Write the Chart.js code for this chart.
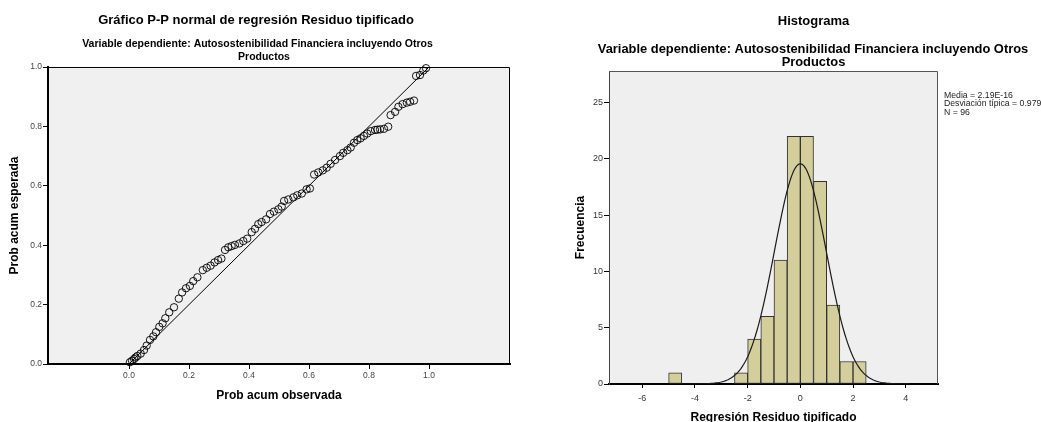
<!DOCTYPE html>
<html>
<head>
<meta charset="utf-8">
<script src="https://cdn.jsdelivr.net/npm/chart.js@4/dist/chart.umd.min.js"></script>
<style>
  html, body { margin: 0; padding: 0; background: #fff; }
  #wrap { position: relative; width: 1041px; height: 422px; overflow: hidden; }
  #ppBox { position: absolute; left: 0; top: 0; width: 520px; height: 422px; }
  #histBox { position: absolute; left: 530px; top: 0; width: 511px; height: 422px; }
</style>
</head>
<body>
<div id="wrap">
  <div id="ppBox"><canvas id="ppChart"></canvas></div>
  <div id="histBox"><canvas id="histChart"></canvas></div>
</div>
<script>
const ppObserved = [0.003, 0.010, 0.017, 0.022, 0.028, 0.039, 0.050, 0.059, 0.070, 0.081,
  0.090, 0.101, 0.112, 0.121, 0.134, 0.150, 0.166, 0.177, 0.190, 0.203,
  0.214, 0.228, 0.246, 0.259, 0.272, 0.285, 0.297, 0.308, 0.320, 0.331,
  0.342, 0.353, 0.368, 0.381, 0.394, 0.409, 0.420, 0.431, 0.442, 0.457,
  0.470, 0.483, 0.498, 0.509, 0.517, 0.531, 0.548, 0.561, 0.576, 0.592,
  0.603, 0.617, 0.631, 0.646, 0.659, 0.672, 0.687, 0.703, 0.714, 0.728,
  0.739, 0.750, 0.761, 0.772, 0.783, 0.794, 0.806, 0.820, 0.828, 0.837,
  0.850, 0.864, 0.872, 0.887, 0.898, 0.912, 0.926, 0.937, 0.950, 0.957,
  0.970, 0.981, 0.990];
const ppExpected = [0.006, 0.011, 0.017, 0.022, 0.027, 0.035, 0.047, 0.062, 0.081, 0.093,
  0.107, 0.125, 0.137, 0.154, 0.174, 0.191, 0.220, 0.241, 0.255, 0.263,
  0.279, 0.292, 0.316, 0.324, 0.331, 0.342, 0.350, 0.355, 0.384, 0.393,
  0.397, 0.401, 0.406, 0.414, 0.422, 0.444, 0.455, 0.471, 0.478, 0.487,
  0.505, 0.513, 0.521, 0.530, 0.549, 0.554, 0.561, 0.568, 0.574, 0.588,
  0.591, 0.638, 0.645, 0.652, 0.661, 0.674, 0.687, 0.700, 0.711, 0.720,
  0.729, 0.745, 0.754, 0.760, 0.768, 0.776, 0.784, 0.788, 0.789, 0.790,
  0.792, 0.799, 0.838, 0.849, 0.866, 0.875, 0.880, 0.883, 0.887, 0.970,
  0.973, 0.988, 0.996];
const ppTicks = [0, 0.2, 0.4, 0.6, 0.8, 1.0];

// Histogram of standardized residuals
const binCenters = [-4.75, -2.25, -1.75, -1.25, -0.75, -0.25, 0.25, 0.75, 1.25, 1.75, 2.25];
const binCounts = [1, 1, 4, 6, 11, 22, 22, 18, 7, 2, 2];
const binWidth = 0.5;
const histXTicks = [-6, -4, -2, 0, 2, 4];
const histYTicks = [0, 5, 10, 15, 20, 25];
const residMean = 2.19e-16;
const residSD = 0.979;
const residN = 96;

const FONT = "'Liberation Sans', Arial, sans-serif";

// fitted normal curve from the stats printed beside the histogram
const curveX = [];
for (let x = -4.8; x <= 4.15; x += 0.05) curveX.push(x);
const curvePts = curveX.map(x => ({
  x: x,
  y: residN * binWidth * Math.exp(-0.5 * Math.pow((x - residMean) / residSD, 2)) / (residSD * Math.sqrt(2 * Math.PI))
}));

// plot background, frame and the title/annotation texts
const plotFrame = {
  id: 'plotFrame',
  beforeDraw(chart, args, opts) {
    const {ctx, chartArea: a} = chart;
    ctx.save();
    ctx.fillStyle = opts.fill;
    ctx.fillRect(a.left, a.top, a.right - a.left, a.bottom - a.top);
    ctx.restore();
  },
  afterDraw(chart, args, opts) {
    const {ctx, chartArea: a} = chart;
    ctx.save();
    ctx.strokeStyle = opts.stroke;
    ctx.lineWidth = 1;
    ctx.beginPath();
    ctx.moveTo(a.left, a.top + 0.5);
    ctx.lineTo(a.right - 0.5, a.top + 0.5);
    ctx.lineTo(a.right - 0.5, a.bottom);
    ctx.stroke();
    ctx.fillStyle = '#000';
    ctx.textBaseline = 'alphabetic';
    (opts.lines || []).forEach(l => {
      ctx.font = l.font;
      ctx.fillStyle = l.color || '#000';
      ctx.textAlign = l.align || 'center';
      ctx.fillText(l.text, l.x, l.y);
    });
    ctx.restore();
  }
};

const subtitle = 'Variable dependiente: Autosostenibilidad Financiera incluyendo Otros';

new Chart(document.getElementById('ppChart'), {
  type: 'scatter',
  data: {
    datasets: [{
      data: ppObserved.map((v, i) => ({x: v, y: ppExpected[i]})),
      pointRadius: 3.7,
      pointBorderWidth: 0.9,
      pointBorderColor: '#000',
      pointBackgroundColor: 'rgba(0,0,0,0)',
      clip: false,
      order: 0
    }, {
      type: 'line',
      data: [{x: 0, y: 0}, {x: 1, y: 1}],
      borderColor: '#000',
      borderWidth: 1,
      pointRadius: 0,
      order: 1
    }]
  },
  options: {
    responsive: true,
    maintainAspectRatio: false,
    animation: false,
    layout: { padding: { top: 67, right: 10, left: 0, bottom: 0 } },
    plugins: {
      legend: { display: false },
      tooltip: { enabled: false },
      plotFrame: {
        fill: '#f0f0f0',
        stroke: '#000',
        lines: [
          { text: 'Gráfico P-P normal de regresión Residuo tipificado', x: 256, y: 24, font: 'bold 13px ' + FONT },
          { text: subtitle, x: 257.5, y: 47, font: 'bold 10.5px ' + FONT },
          { text: 'Productos', x: 264, y: 59.5, font: 'bold 10.5px ' + FONT }
        ]
      }
    },
    scales: {
      x: {
        type: 'linear',
        min: -0.27,
        max: 1.27,
        afterBuildTicks: s => { s.ticks = ppTicks.map(v => ({value: v})); },
        afterFit: s => { s.height = 58; },
        ticks: { color: '#444', font: { family: FONT, size: 8.5 }, padding: 2, maxRotation: 0,
          callback: v => v.toFixed(1) },
        grid: { display: true, drawOnChartArea: false, tickLength: 5, color: '#000' },
        border: { display: true, color: '#000', width: 2 },
        title: { display: true, text: 'Prob acum observada', color: '#000',
          font: { family: FONT, size: 12, weight: 'bold', lineHeight: 1.2 }, padding: { top: 0, bottom: 19 } }
      },
      y: {
        type: 'linear',
        min: 0,
        max: 1,
        afterBuildTicks: s => { s.ticks = ppTicks.map(v => ({value: v})); },
        afterFit: s => { s.width = 48; },
        ticks: { color: '#444', font: { family: FONT, size: 8.5 }, padding: 1,
          callback: v => v.toFixed(1) },
        grid: { display: true, drawOnChartArea: false, tickLength: 5, color: '#000' },
        border: { display: true, color: '#000', width: 2 },
        title: { display: true, text: 'Prob acum esperada', color: '#000',
          font: { family: FONT, size: 12, weight: 'bold', lineHeight: 1.2 }, padding: { top: 7.5, bottom: 0 } }
      }
    }
  },
  plugins: [plotFrame]
});

new Chart(document.getElementById('histChart'), {
  type: 'bar',
  data: {
    datasets: [{
      type: 'line',
      data: curvePts,
      borderColor: '#1a1a1a',
      borderWidth: 1.2,
      pointRadius: 0,
      tension: 0,
      order: 0
    }, {
      type: 'bar',
      data: binCenters.map((c, i) => ({x: c, y: binCounts[i]})),
      backgroundColor: '#d3ce9a',
      borderColor: '#333',
      borderWidth: 1,
      borderSkipped: false,
      barPercentage: 1,
      categoryPercentage: 1,
      order: 1
    }]
  },
  options: {
    responsive: true,
    maintainAspectRatio: false,
    animation: false,
    layout: { padding: { top: 71, right: 103, left: 0, bottom: 0 } },
    plugins: {
      legend: { display: false },
      tooltip: { enabled: false },
      plotFrame: {
        fill: '#efefef',
        stroke: '#555',
        lines: [
          { text: 'Histograma', x: 283.5, y: 25, font: 'bold 13px ' + FONT },
          { text: subtitle, x: 283, y: 53, font: 'bold 12.9px ' + FONT },
          { text: 'Productos', x: 283.5, y: 65.5, font: 'bold 12.9px ' + FONT },
          { text: 'Media = 2.19E-16', x: 414, y: 97.5, font: '8.7px ' + FONT, align: 'left', color: '#222' },
          { text: 'Desviación típica = 0.979', x: 414, y: 106, font: '8.7px ' + FONT, align: 'left', color: '#222' },
          { text: 'N = 96', x: 414, y: 114.5, font: '8.7px ' + FONT, align: 'left', color: '#222' }
        ]
      }
    },
    scales: {
      x: {
        type: 'linear',
        offset: false,
        min: -7.264,
        max: 5.226,
        afterBuildTicks: s => { s.ticks = histXTicks.map(v => ({value: v})); },
        afterFit: s => { s.height = 38; },
        ticks: { color: '#333', font: { family: FONT, size: 9 }, padding: 5, maxRotation: 0 },
        grid: { display: true, offset: false, drawOnChartArea: false, tickLength: 4, color: '#000' },
        border: { display: true, color: '#000', width: 2 },
        title: { display: true, text: 'Regresión Residuo tipificado', color: '#000',
          font: { family: FONT, size: 12, weight: 'bold', lineHeight: 0.8 }, padding: { top: 0, bottom: 0 } }
      },
      y: {
        type: 'linear',
        min: 0,
        max: 27.8,
        afterBuildTicks: s => { s.ticks = histYTicks.map(v => ({value: v})); },
        afterFit: s => { s.width = 79; },
        ticks: { color: '#333', font: { family: FONT, size: 9 }, padding: 1 },
        grid: { display: true, drawOnChartArea: false, tickLength: 5, color: '#000' },
        border: { display: true, color: '#444', width: 1 },
        title: { display: true, text: 'Frecuencia', color: '#000',
          font: { family: FONT, size: 12, weight: 'bold', lineHeight: 1.2 }, padding: { top: 43, bottom: 0 } }
      }
    }
  },
  plugins: [plotFrame]
});
</script>
</body>
</html>
